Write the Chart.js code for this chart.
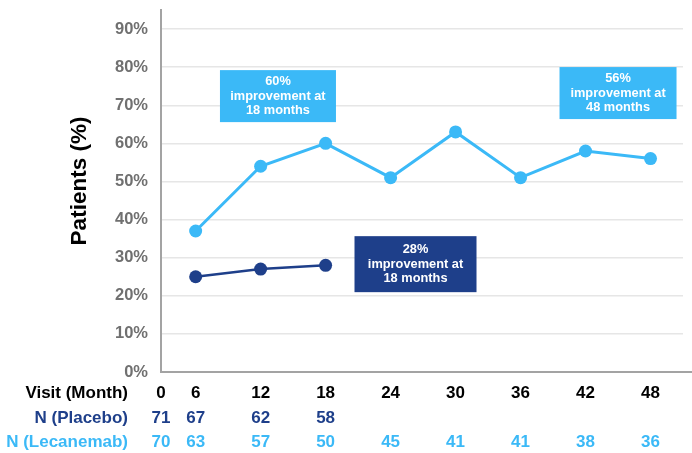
<!DOCTYPE html>
<html><head><meta charset="utf-8">
<script src="https://cdn.jsdelivr.net/npm/chart.js@4"></script>
<style>html,body{margin:0;padding:0;background:#fff;} canvas{display:block;}</style>
</head><body>
<canvas id="c" width="692" height="453"></canvas>
<script>
// ---- data ----
const months = [6, 12, 18, 24, 30, 36, 42, 48];
const lecanemab = [37, 54, 60, 51, 63, 51, 58, 56];
const placebo = [25, 27, 28];
const visitMonths = [0, 6, 12, 18, 24, 30, 36, 42, 48];
const visitLabels = ['0', '6', '12', '18', '24', '30', '36', '42', '48'];
const nPlacebo = [71, 67, 62, 58];
const nLecanemab = [70, 63, 57, 50, 45, 41, 41, 38, 36];
const yTickValues = [0, 10, 20, 30, 40, 50, 60, 70, 80, 90];
const rowLabels = ['Visit (Month)', 'N (Placebo)', 'N (Lecanemab)'];

const LIGHT = '#3BB9F7';
const DARK = '#1E3F8A';
const FONT = '"Liberation Sans", Arial, sans-serif';

const notes = [
  { lines: ['60%', 'improvement at', '18 months'], month: 13.6, pct: 72.4, w: 116, h: 52, color: LIGHT },
  { lines: ['28%', 'improvement at', '18 months'], month: 26.3, pct: 28.3, w: 122, h: 56, color: DARK },
  { lines: ['56%', 'improvement at', '48 months'], month: 45.0, pct: 73.2, w: 117, h: 52, color: LIGHT }
];

const extras = {
  id: 'extras',
  afterDraw(chart) {
    const ctx = chart.ctx;
    const xs = chart.scales.x, ys = chart.scales.y;
    const ca = chart.chartArea;
    ctx.save();
    // extend bottom axis
    ctx.strokeStyle = '#a3a3a3';
    ctx.lineWidth = 2;
    ctx.beginPath();
    ctx.moveTo(ca.right - 1, ca.bottom);
    ctx.lineTo(chart.width, ca.bottom);
    ctx.stroke();

    // annotation boxes
    notes.forEach(n => {
      const cx = xs.getPixelForValue(n.month);
      const cy = ys.getPixelForValue(n.pct);
      ctx.fillStyle = n.color;
      ctx.fillRect(cx - n.w / 2, cy - n.h / 2, n.w, n.h);
      ctx.fillStyle = '#ffffff';
      ctx.font = 'bold 12.8px ' + FONT;
      ctx.textAlign = 'center';
      ctx.textBaseline = 'middle';
      const lh = 14.5;
      n.lines.forEach((t, i) => {
        ctx.fillText(t, cx, cy + (i - 1) * lh);
      });
    });

    // y title
    ctx.save();
    ctx.translate(80, 181);
    ctx.rotate(-Math.PI / 2);
    ctx.fillStyle = '#000';
    ctx.font = 'bold 22.5px ' + FONT;
    ctx.textAlign = 'center';
    ctx.textBaseline = 'middle';
    ctx.fillText('Patients (%)', 0, 0);
    ctx.restore();

    // table
    const rowY = [ca.bottom + 21, ca.bottom + 46, ca.bottom + 70];
    const rowColors = ['#000000', DARK, LIGHT];
    const rowData = [visitLabels, nPlacebo, nLecanemab];
    ctx.font = 'bold 17px ' + FONT;
    ctx.textBaseline = 'middle';
    rowLabels.forEach((lab, r) => {
      ctx.fillStyle = rowColors[r];
      ctx.textAlign = 'right';
      ctx.fillText(lab, 128, rowY[r]);
      ctx.textAlign = 'center';
      rowData[r].forEach((v, i) => {
        const m = visitMonths[i];
        const x = m === 0 ? ca.left : xs.getPixelForValue(m);
        ctx.fillText(String(v), x, rowY[r]);
      });
    });
    ctx.restore();
  }
};

new Chart(document.getElementById('c'), {
  type: 'line',
  data: {
    datasets: [
      {
        label: 'Lecanemab',
        data: months.map((m, i) => ({ x: m, y: lecanemab[i] })),
        borderColor: LIGHT, backgroundColor: LIGHT,
        borderWidth: 3, pointRadius: 6.5, pointBorderWidth: 0, pointBackgroundColor: LIGHT,
        tension: 0
      },
      {
        label: 'Placebo',
        data: placebo.map((v, i) => ({ x: months[i], y: v })),
        borderColor: DARK, backgroundColor: DARK,
        borderWidth: 2.5, pointRadius: 6.5, pointBorderWidth: 0, pointBackgroundColor: DARK,
        tension: 0
      }
    ]
  },
  options: {
    responsive: false,
    animation: false,
    devicePixelRatio: 1,
    layout: { padding: { left: 0, top: 10, right: 9, bottom: 81 } },
    plugins: { legend: { display: false }, tooltip: { enabled: false } },
    scales: {
      x: {
        type: 'linear', min: 2.8, max: 51,
        grid: { display: false, drawTicks: false },
        ticks: { display: false },
        border: { display: true, color: '#a3a3a3', width: 2 },
        afterFit(s) { s.height = 0; s.paddingLeft = 0; s.paddingRight = 0; }
      },
      y: {
        min: 0, max: 95,
        afterBuildTicks(s) { s.ticks = yTickValues.map(v => ({ value: v })); },
        grid: { color: '#e6e6e6', lineWidth: 1.5, drawTicks: false },
        border: { display: true, color: '#a3a3a3', width: 2 },
        ticks: {
          padding: 13,
          color: '#707070',
          font: { family: FONT, size: 16.5, weight: 'bold' },
          callback: v => v + '%'
        },
        afterFit(s) { s.width = 161; s.paddingTop = 0; s.paddingBottom = 0; }
      }
    }
  },
  plugins: [extras]
});
</script>
</body></html>
